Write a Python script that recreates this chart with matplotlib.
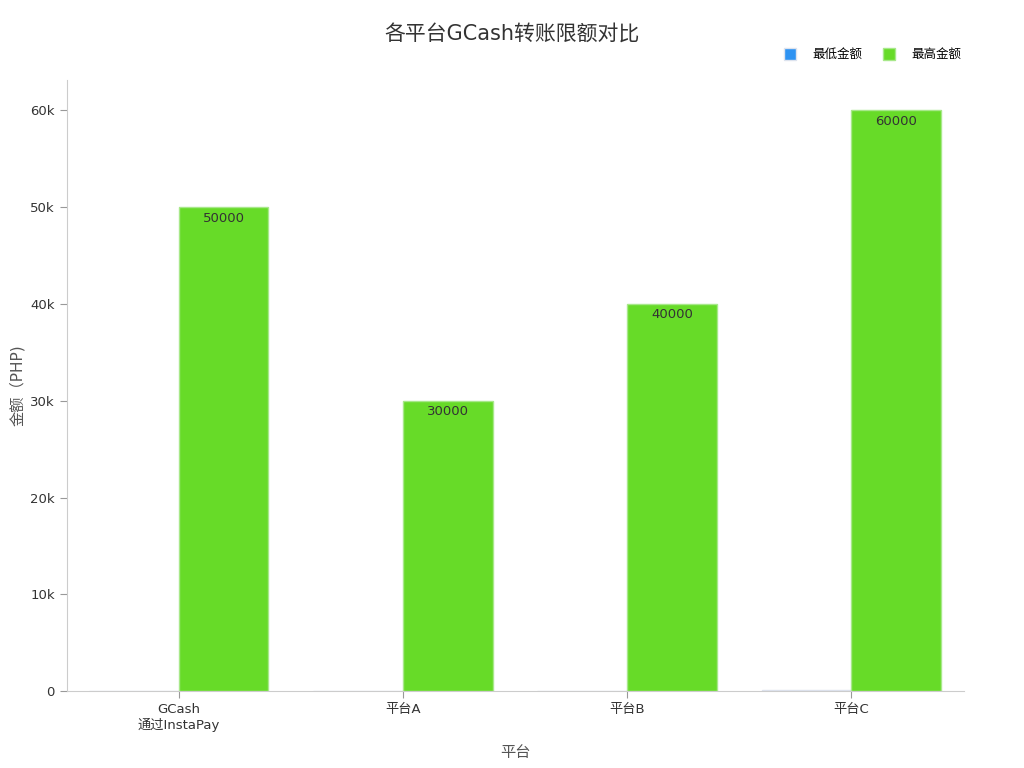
import matplotlib
matplotlib.use('Agg')
import matplotlib.pyplot as plt
import numpy as np
from matplotlib.ticker import FuncFormatter

plt.rcParams['font.family'] = ['DejaVu Sans', 'Noto Sans CJK SC']

#===== DATA =====#
platforms = ['GCash\n通过InstaPay', '平台A', '平台B', '平台C']
min_amount = [1, 1, 1, 100]
max_amount = [50000, 30000, 40000, 60000]

blue = '#2E93F2'
green = '#67DB28'

fig, ax = plt.subplots(figsize=(10.24, 7.68), dpi=100)
fig.subplots_adjust(left=0.065, right=0.941, top=0.896, bottom=0.1)

x = np.arange(len(platforms))
w = 0.4
ax.bar(x - w / 2, min_amount, w, color=blue, edgecolor='#dde3ee', linewidth=1, label='最低金额')
bars = ax.bar(x + w / 2, max_amount, w, color=green, edgecolor='#a8e88a', linewidth=1, label='最高金额')

for b, v in zip(bars, max_amount):
    ax.text(b.get_x() + b.get_width() / 2, v - 450, str(v), ha='center', va='top',
            fontsize=9.5, color='#333333')

ax.set_xlim(-0.5, 3.5)
ax.set_ylim(0, 63150)
ax.set_yticks(range(0, 60001, 10000))
ax.yaxis.set_major_formatter(FuncFormatter(lambda v, p: '0' if v == 0 else '{}k'.format(int(v / 1000))))
ax.set_xticks(x)
ax.set_xticklabels(platforms, fontsize=9.5, color='#333333')
ax.tick_params(axis='y', labelsize=9.5, colors='#333333')
ax.tick_params(axis='both', color='#999999', length=5)

for s in ['top', 'right']:
    ax.spines[s].set_visible(False)
for s in ['left', 'bottom']:
    ax.spines[s].set_color('#cccccc')

ax.set_xlabel('平台', fontsize=11, color='#555555', labelpad=9)
ax.set_ylabel('金额（PHP)', fontsize=11, color='#555555')
fig.suptitle('各平台GCash转账限额对比', fontsize=15, color='#333333', y=0.968)

ax.legend(loc='lower right', bbox_to_anchor=(1.01, 1.012), ncol=2, frameon=False,
          fontsize=9, handlelength=1.0, handleheight=1.0, columnspacing=1.6, handletextpad=1.3)

plt.savefig('out.png')
